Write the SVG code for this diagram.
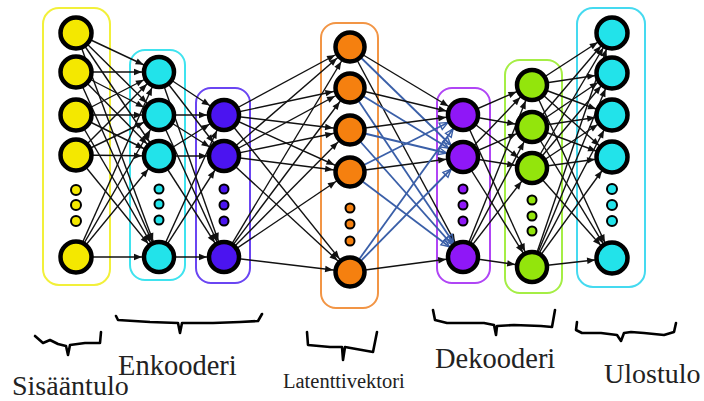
<svg xmlns="http://www.w3.org/2000/svg" width="704" height="401" viewBox="0 0 704 401">
<defs>
<style>
.box{fill:none;stroke-width:2}
.n{stroke:#000;stroke-width:4.5}
.d{stroke:#000;stroke-width:2}
.e{stroke:#111;stroke-width:1.4;marker-end:url(#ak)}
.eb{stroke:#3a5fa8;stroke-width:1.8;marker-end:url(#ab)}
.br{fill:none;stroke:#000;stroke-width:2.6;stroke-linejoin:round;stroke-linecap:round}
.yl{fill:#f4e800}.cy{fill:#22e3ea}.bl{fill:#4b14f0}.or{fill:#f5800f}.pu{fill:#8f17f7}.gr{fill:#93e50c}
text{font-family:'Liberation Serif','Times New Roman','DejaVu Serif',serif;fill:#222}
</style>
<marker id="ak" markerUnits="userSpaceOnUse" markerWidth="30" markerHeight="10" refX="25" refY="0" orient="auto" overflow="visible"><path d="M0,-3.2 L8,0 L0,3.2 z" fill="#111"/></marker>
<marker id="ab" markerUnits="userSpaceOnUse" markerWidth="30" markerHeight="10" refX="25" refY="0" orient="auto" overflow="visible"><path d="M0,-3.5 L8,0 L0,3.5 z" fill="none" stroke="#3a5fa8" stroke-width="1.4"/></marker>
</defs>
<rect width="704" height="401" fill="#fff"/>
<g id="boxes">
<rect class="box" x="43" y="8" width="67" height="277" rx="16" stroke="#f2f03a"/>
<rect class="box" x="130" y="50" width="55" height="230" rx="15" stroke="#3fe3ef"/>
<rect class="box" x="196" y="88" width="54" height="195" rx="15" stroke="#6a45f2"/>
<rect class="box" x="321" y="23" width="57" height="285" rx="15" stroke="#f29545"/>
<rect class="box" x="437" y="88" width="53" height="195" rx="15" stroke="#b045f5"/>
<rect class="box" x="505" y="60" width="57" height="233" rx="15" stroke="#a5ee45"/>
<rect class="box" x="577" y="8" width="68" height="279" rx="16" stroke="#45daf0"/>
</g>
<g id="connectors">
<line class="e" x1="76" y1="33" x2="159" y2="72"/><line class="e" x1="76" y1="33" x2="159" y2="115"/><line class="e" x1="76" y1="33" x2="159" y2="156"/><line class="e" x1="76" y1="33" x2="159" y2="257"/>
<line class="e" x1="76" y1="72" x2="159" y2="72"/><line class="e" x1="76" y1="72" x2="159" y2="115"/><line class="e" x1="76" y1="72" x2="159" y2="156"/><line class="e" x1="76" y1="72" x2="159" y2="257"/>
<line class="e" x1="76" y1="115" x2="159" y2="72"/><line class="e" x1="76" y1="115" x2="159" y2="115"/><line class="e" x1="76" y1="115" x2="159" y2="156"/><line class="e" x1="76" y1="115" x2="159" y2="257"/>
<line class="e" x1="76" y1="155" x2="159" y2="72"/><line class="e" x1="76" y1="155" x2="159" y2="115"/><line class="e" x1="76" y1="155" x2="159" y2="156"/><line class="e" x1="76" y1="155" x2="159" y2="257"/>
<line class="e" x1="76" y1="257" x2="159" y2="72"/><line class="e" x1="76" y1="257" x2="159" y2="115"/><line class="e" x1="76" y1="257" x2="159" y2="156"/><line class="e" x1="76" y1="257" x2="159" y2="257"/>
<line class="e" x1="159" y1="72" x2="224" y2="115"/><line class="e" x1="159" y1="72" x2="224" y2="156"/><line class="e" x1="159" y1="72" x2="224" y2="257"/>
<line class="e" x1="159" y1="115" x2="224" y2="115"/><line class="e" x1="159" y1="115" x2="224" y2="156"/><line class="e" x1="159" y1="115" x2="224" y2="257"/>
<line class="e" x1="159" y1="156" x2="224" y2="115"/><line class="e" x1="159" y1="156" x2="224" y2="156"/><line class="e" x1="159" y1="156" x2="224" y2="257"/>
<line class="e" x1="159" y1="257" x2="224" y2="115"/><line class="e" x1="159" y1="257" x2="224" y2="156"/><line class="e" x1="159" y1="257" x2="224" y2="257"/>
<line class="e" x1="224" y1="115" x2="350" y2="47"/><line class="e" x1="224" y1="115" x2="350" y2="88"/><line class="e" x1="224" y1="115" x2="350" y2="130"/><line class="e" x1="224" y1="115" x2="350" y2="172"/><line class="e" x1="224" y1="115" x2="350" y2="272"/>
<line class="e" x1="224" y1="156" x2="350" y2="47"/><line class="e" x1="224" y1="156" x2="350" y2="88"/><line class="e" x1="224" y1="156" x2="350" y2="130"/><line class="e" x1="224" y1="156" x2="350" y2="172"/><line class="e" x1="224" y1="156" x2="350" y2="272"/>
<line class="e" x1="224" y1="257" x2="350" y2="47"/><line class="e" x1="224" y1="257" x2="350" y2="88"/><line class="e" x1="224" y1="257" x2="350" y2="130"/><line class="e" x1="224" y1="257" x2="350" y2="172"/><line class="e" x1="224" y1="257" x2="350" y2="272"/>
<line class="e" x1="350" y1="47" x2="463" y2="115"/><line class="eb" x1="350" y1="47" x2="463" y2="157"/><line class="e" x1="350" y1="47" x2="463" y2="257"/>
<line class="e" x1="350" y1="88" x2="463" y2="115"/><line class="eb" x1="350" y1="88" x2="463" y2="157"/><line class="eb" x1="350" y1="88" x2="463" y2="257"/>
<line class="e" x1="350" y1="130" x2="463" y2="115"/><line class="eb" x1="350" y1="130" x2="463" y2="157"/><line class="eb" x1="350" y1="130" x2="463" y2="257"/>
<line class="eb" x1="350" y1="172" x2="463" y2="115"/><line class="e" x1="350" y1="172" x2="463" y2="157"/><line class="eb" x1="350" y1="172" x2="463" y2="257"/>
<line class="eb" x1="350" y1="272" x2="463" y2="115"/><line class="eb" x1="350" y1="272" x2="463" y2="157"/><line class="e" x1="350" y1="272" x2="463" y2="257"/>
<line class="e" x1="463" y1="115" x2="532" y2="85"/><line class="e" x1="463" y1="115" x2="532" y2="127"/><line class="e" x1="463" y1="115" x2="532" y2="168"/><line class="e" x1="463" y1="115" x2="532" y2="267"/>
<line class="e" x1="463" y1="157" x2="532" y2="85"/><line class="e" x1="463" y1="157" x2="532" y2="127"/><line class="e" x1="463" y1="157" x2="532" y2="168"/><line class="e" x1="463" y1="157" x2="532" y2="267"/>
<line class="e" x1="463" y1="257" x2="532" y2="85"/><line class="e" x1="463" y1="257" x2="532" y2="127"/><line class="e" x1="463" y1="257" x2="532" y2="168"/><line class="e" x1="463" y1="257" x2="532" y2="267"/>
<line class="e" x1="532" y1="85" x2="612" y2="33"/><line class="e" x1="532" y1="85" x2="612" y2="73"/><line class="e" x1="532" y1="85" x2="612" y2="115"/><line class="e" x1="532" y1="85" x2="612" y2="157"/><line class="e" x1="532" y1="85" x2="612" y2="258"/>
<line class="e" x1="532" y1="127" x2="612" y2="33"/><line class="e" x1="532" y1="127" x2="612" y2="73"/><line class="e" x1="532" y1="127" x2="612" y2="115"/><line class="e" x1="532" y1="127" x2="612" y2="157"/><line class="e" x1="532" y1="127" x2="612" y2="258"/>
<line class="e" x1="532" y1="168" x2="612" y2="33"/><line class="e" x1="532" y1="168" x2="612" y2="73"/><line class="e" x1="532" y1="168" x2="612" y2="115"/><line class="e" x1="532" y1="168" x2="612" y2="157"/><line class="e" x1="532" y1="168" x2="612" y2="258"/>
<line class="e" x1="532" y1="267" x2="612" y2="33"/><line class="e" x1="532" y1="267" x2="612" y2="73"/><line class="e" x1="532" y1="267" x2="612" y2="115"/><line class="e" x1="532" y1="267" x2="612" y2="157"/><line class="e" x1="532" y1="267" x2="612" y2="258"/>
</g>
<g id="input">
<g id="in1"><circle class="n yl" cx="76" cy="33" r="15.5"/></g>
<g id="in2"><circle class="n yl" cx="76" cy="72" r="15.5"/></g>
<g id="in3"><circle class="n yl" cx="76" cy="115" r="15.5"/></g>
<g id="in4"><circle class="n yl" cx="76" cy="155" r="15.5"/></g>
<g id="in-dots"><circle class="d yl" cx="76" cy="190" r="5"/><circle class="d yl" cx="76" cy="205" r="5"/><circle class="d yl" cx="76" cy="221" r="5"/></g>
<g id="in5"><circle class="n yl" cx="76" cy="257" r="15.5"/></g>
</g>
<g id="enc1">
<g id="e1a"><circle class="n cy" cx="159" cy="72" r="15"/></g>
<g id="e1b"><circle class="n cy" cx="159" cy="115" r="15"/></g>
<g id="e1c"><circle class="n cy" cx="159" cy="156" r="15"/></g>
<g id="e1-dots"><circle class="d cy" cx="159" cy="189" r="4.5"/><circle class="d cy" cx="159" cy="204" r="4.5"/><circle class="d cy" cx="159" cy="220" r="4.5"/></g>
<g id="e1d"><circle class="n cy" cx="159" cy="257" r="15"/></g>
</g>
<g id="enc2">
<g id="e2a"><circle class="n bl" cx="224" cy="115" r="15"/></g>
<g id="e2b"><circle class="n bl" cx="224" cy="156" r="15"/></g>
<g id="e2-dots"><circle class="d bl" cx="224" cy="189" r="4.5"/><circle class="d bl" cx="224" cy="205" r="4.5"/><circle class="d bl" cx="224" cy="221" r="4.5"/></g>
<g id="e2c"><circle class="n bl" cx="224" cy="257" r="15"/></g>
</g>
<g id="latent">
<g id="l1"><circle class="n or" cx="350" cy="47" r="14.5"/></g>
<g id="l2"><circle class="n or" cx="350" cy="88" r="14.5"/></g>
<g id="l3"><circle class="n or" cx="350" cy="130" r="14.5"/></g>
<g id="l4"><circle class="n or" cx="350" cy="172" r="14.5"/></g>
<g id="l-dots"><circle class="d or" cx="350" cy="208" r="4.5"/><circle class="d or" cx="350" cy="224" r="4.5"/><circle class="d or" cx="350" cy="241" r="4.5"/></g>
<g id="l5"><circle class="n or" cx="350" cy="272" r="14.5"/></g>
</g>
<g id="dec1">
<g id="d1a"><circle class="n pu" cx="463" cy="115" r="15"/></g>
<g id="d1b"><circle class="n pu" cx="463" cy="157" r="15"/></g>
<g id="d1-dots"><circle class="d pu" cx="463" cy="189" r="4.5"/><circle class="d pu" cx="463" cy="205" r="4.5"/><circle class="d pu" cx="463" cy="221" r="4.5"/></g>
<g id="d1c"><circle class="n pu" cx="463" cy="257" r="15"/></g>
</g>
<g id="dec2">
<g id="d2a"><circle class="n gr" cx="532" cy="85" r="15"/></g>
<g id="d2b"><circle class="n gr" cx="532" cy="127" r="15"/></g>
<g id="d2c"><circle class="n gr" cx="532" cy="168" r="15"/></g>
<g id="d2-dots"><circle class="d gr" cx="532" cy="200" r="4.5"/><circle class="d gr" cx="532" cy="216" r="4.5"/><circle class="d gr" cx="532" cy="231" r="4.5"/></g>
<g id="d2d"><circle class="n gr" cx="532" cy="267" r="15"/></g>
</g>
<g id="output">
<g id="o1"><circle class="n cy" cx="612" cy="33" r="15.5"/></g>
<g id="o2"><circle class="n cy" cx="612" cy="73" r="15.5"/></g>
<g id="o3"><circle class="n cy" cx="612" cy="115" r="15.5"/></g>
<g id="o4"><circle class="n cy" cx="612" cy="157" r="15.5"/></g>
<g id="o-dots"><circle class="d cy" cx="612" cy="189" r="5"/><circle class="d cy" cx="612" cy="205" r="5"/><circle class="d cy" cx="612" cy="221" r="5"/></g>
<g id="o5"><circle class="n cy" cx="612" cy="258" r="15.5"/></g>
</g>
<g id="braces">
<path class="br" d="M35,336 L43,343 L50,340 L58,344 L66,346 L68,355 L70,345 L85,343 L100,343 L101,332"/>
<path class="br" d="M116,316 L118,320 L150,322 L178,323 L180,333 L182,323 L213,323 L240,322 L258,321 L262,314"/>
<path class="br" d="M307,332 L308,345 L330,347 L342,347 L343,360 L345,347 L373,352 L377,332"/>
<path class="br" d="M433,310 L435,320 L447,323 L470,323 L484,323 L494,325 L496,335 L497,326 L514,325 L541,326 L552,327 L555,310"/>
<path class="br" d="M577,322 L576,330 L582,333 L601,333 L617,335 L621,341 L624,333 L631,332 L644,333 L664,335 L674,332 L676,323"/>
</g>
<g id="labels">
<text x="12" y="395" font-size="28">Sisääntulo</text>
<text x="118" y="375" font-size="28.5">Enkooderi</text>
<text x="283" y="388" font-size="20.5">Latenttivektori</text>
<text x="435" y="368" font-size="28.5">Dekooderi</text>
<text x="604" y="383" font-size="28">Ulostulo</text>
</g>
</svg>
